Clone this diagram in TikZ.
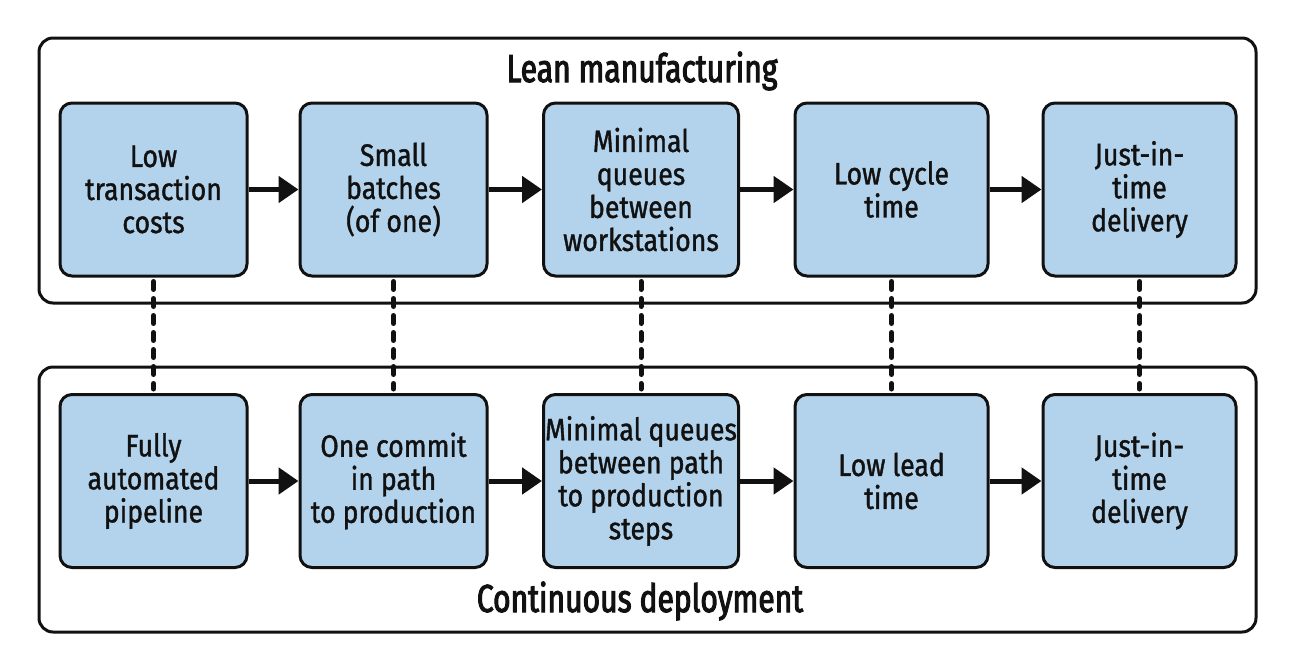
\documentclass[tikz,border=0pt]{standalone}
\usepackage{fontspec}
\setmainfont[FakeStretch=0.86, FakeBold=1.2]{Fira Sans}
\newfontfamily\titlefont[FakeStretch=0.77, FakeBold=2.6]{Fira Sans}
\usetikzlibrary{arrows.meta}
\definecolor{boxfill}{RGB}{179,211,236}
\definecolor{ink}{RGB}{17,17,17}
\tikzset{
  frame/.style={draw=ink, line width=3pt, rounded corners=14pt, inner sep=0pt},
  stepbox/.style={draw=ink, fill=boxfill, line width=3pt, rounded corners=12pt,
    minimum height=173pt, inner sep=0pt, align=center, text=ink,
    font=\fontsize{31}{33}\selectfont},
  titletext/.style={anchor=base, text=ink, inner sep=0pt, font=\titlefont\fontsize{39}{42}\selectfont},
  arr/.style={draw=ink, line width=5pt, -{Triangle[length=20pt,width=26pt]}},
  dashlink/.style={draw=ink, line width=5pt, line cap=round, dash pattern=on 8pt off 9pt}
}
\begin{document}
\begin{tikzpicture}[x=1pt,y=-1pt]
\useasboundingbox[fill=white] (0,0) rectangle (1296,667);
% frames
\node[frame, minimum width=1217pt, minimum height=265pt] (lean) at (647.5,170.5) {};
\node[frame, minimum width=1217pt, minimum height=265pt] (cd) at (647.5,499.5) {};
% titles
\node[titletext] (leant) at (642,82) {Lean manufacturing};
\node[titletext] (cdt) at (640,612) {Continuous deployment};
% top row
\node[stepbox, minimum width=187pt] (a1) at (153.5,189.5) {Low\\transaction\\costs};
\node[stepbox, minimum width=187pt] (a2) at (393.5,189.5) {Small\\batches\\(of one)};
\node[stepbox, minimum width=195pt] (a3) at (641,189.5) {Minimal\\queues\\between\\workstations};
\node[stepbox, minimum width=193pt] (a4) at (891.5,189.5) {Low cycle\\time};
\node[stepbox, minimum width=193pt] (a5) at (1139.5,189.5) {Just-in-\\time\\delivery};
% bottom row
\node[stepbox, minimum width=187pt] (b1) at (153.5,481) {Fully\\automated\\pipeline};
\node[stepbox, minimum width=187pt] (b2) at (393.5,481) {One commit\\in path\\to production};
\node[stepbox, minimum width=195pt] (b3) at (641,481) {Minimal queues\\between path\\to production\\steps};
\node[stepbox, minimum width=193pt] (b4) at (891.5,481) {Low lead\\time};
\node[stepbox, minimum width=193pt] (b5) at (1139.5,481) {Just-in-\\time\\delivery};
% arrows
\foreach \r in {a,b}{
  \draw[arr] (\r1) -- (\r2);
  \draw[arr] (\r2) -- (\r3);
  \draw[arr] (\r3) -- (\r4);
  \draw[arr] (\r4) -- (\r5);
}
% dashed links
\foreach \i in {1,...,5}{
  \draw[dashlink] ([yshift=-4pt]a\i.south) -- ([yshift=4pt]b\i.north);
}
\end{tikzpicture}
\end{document}
